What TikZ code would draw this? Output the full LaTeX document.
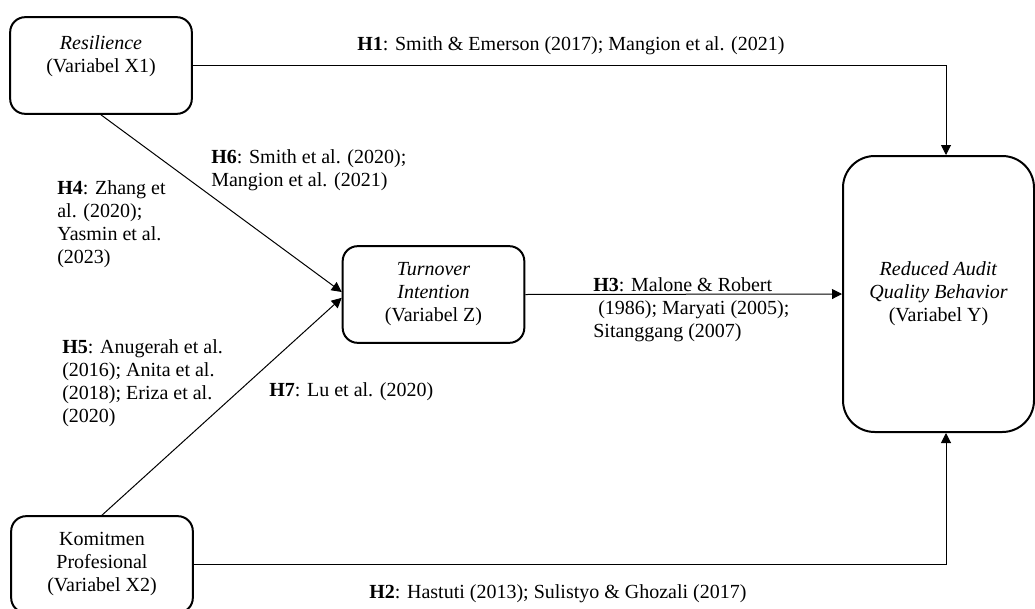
\documentclass[tikz,border=0pt]{standalone}
\usepackage{fontspec}
\setmainfont{Liberation Serif}
\usetikzlibrary{arrows.meta}

\begin{document}
\begin{tikzpicture}[x=0.6pt,y=-0.6pt,inner sep=0pt,
        font=\fontsize{12}{13.8}\selectfont,
        varbox/.style={draw=black, line width=1.2pt, rounded corners=9pt, align=center,
                minimum width=109pt, minimum height=58pt},
        link/.style={draw=black, line width=0.6pt, -{Triangle[length=6pt,width=6pt]}},
        hyp/.style={align=left, anchor=west}]
        \useasboundingbox (0,0) rectangle (1035,609);

        \node [varbox] (res) at (101,65.5) {\textit{Resilience}\\(Variabel X1)\\~};
        \node [varbox] (kom) at (102,564.5) {Komitmen\\Profesional\\(Variabel X2)};
        \node [varbox] (tov) at (433.5,294.5) {\textit{Turnover}\\\textit{Intention}\\(Variabel Z)};
        \node [varbox, rounded corners=19pt, minimum width=114.6pt, minimum height=165.6pt] (ydv) at (938.5,294)
                {\textit{Reduced Audit}\\\textit{Quality Behavior}\\(Variabel Y)};

        \draw [link] (res.east) -| ([xshift=4.5pt]ydv.north);
        \draw [link] (kom.east) -| ([xshift=4.5pt]ydv.south);
        \draw [link] (tov.east) -- (ydv.west);
        \draw [link] (res.south) -- ([yshift=1.5pt]tov.west);
        \draw [link] (kom.north) -- ([yshift=-2pt]tov.west);

        \node [hyp] (h1) at (357,46) {\textbf{H1}: Smith \& Emerson (2017); Mangion et al. (2021)};
        \node [hyp] (h2) at (369,594) {\textbf{H2}: Hastuti (2013); Sulistyo \& Ghozali (2017)};
        \node [hyp] (h3) at (593,310) {\textbf{H3}: Malone \& Robert\\\hspace{3pt}(1986); Maryati (2005);\\Sitanggang (2007)};
        \node [hyp] (h4) at (57,224.5) {\textbf{H4}: Zhang et\\al. (2020);\\Yasmin et al.\\(2023)};
        \node [hyp] (h5) at (62,383) {\textbf{H5}: Anugerah et al.\\(2016); Anita et al.\\(2018); Eriza et al.\\(2020)};
        \node [hyp] (h6) at (211,170) {\textbf{H6}: Smith et al. (2020);\\Mangion et al. (2021)};
        \node [hyp] (h7) at (269,392) {\textbf{H7}: Lu et al. (2020)};

\end{tikzpicture}
\end{document}
